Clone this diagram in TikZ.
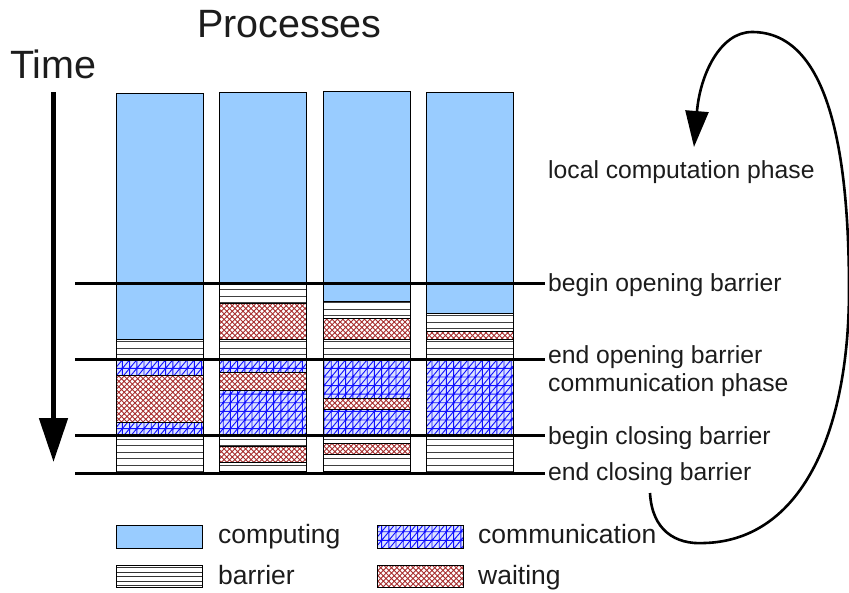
\documentclass[tikz,border=0pt]{standalone}
\usepackage{fontspec}
\setmainfont{Liberation Sans}
\usetikzlibrary{patterns,arrows.meta}

% horizontal hatching for barrier phases
\pgfdeclarepatternformonly{barrierlines}{\pgfqpoint{-1pt}{0pt}}{\pgfqpoint{11pt}{6.5pt}}{\pgfqpoint{10pt}{6.5pt}}{%
  \pgfsetlinewidth{0.9pt}%
  \pgfpathmoveto{\pgfqpoint{-1pt}{3.25pt}}%
  \pgfpathlineto{\pgfqpoint{11pt}{3.25pt}}%
  \pgfusepath{stroke}}
\pgfdeclarepatternformonly{barrierfine}{\pgfqpoint{-1pt}{0pt}}{\pgfqpoint{11pt}{4.4pt}}{\pgfqpoint{10pt}{4.4pt}}{%
  \pgfsetlinewidth{0.8pt}%
  \pgfpathmoveto{\pgfqpoint{-1pt}{2.2pt}}%
  \pgfpathlineto{\pgfqpoint{11pt}{2.2pt}}%
  \pgfusepath{stroke}}
% grid with diagonals for communication
\pgfdeclarepatternformonly{commgrid}{\pgfqpoint{-1pt}{-1pt}}{\pgfqpoint{8.2pt}{9.6pt}}{\pgfqpoint{7.2pt}{8.6pt}}{%
  \pgfsetlinewidth{0.9pt}%
  \pgfpathmoveto{\pgfqpoint{0pt}{-1pt}}\pgfpathlineto{\pgfqpoint{0pt}{9.6pt}}%
  \pgfpathmoveto{\pgfqpoint{-1pt}{0pt}}\pgfpathlineto{\pgfqpoint{8.2pt}{0pt}}%
  \pgfpathmoveto{\pgfqpoint{-0.6pt}{-0.72pt}}\pgfpathlineto{\pgfqpoint{7.8pt}{9.32pt}}%
  \pgfusepath{stroke}}
% diagonal cross-hatching for waiting
\pgfdeclarepatternformonly{waitcross}{\pgfqpoint{-1pt}{-1pt}}{\pgfqpoint{6.4pt}{6.4pt}}{\pgfqpoint{5.4pt}{5.4pt}}{%
  \pgfsetlinewidth{0.9pt}%
  \pgfpathmoveto{\pgfqpoint{-0.5pt}{-0.5pt}}\pgfpathlineto{\pgfqpoint{5.9pt}{5.9pt}}%
  \pgfpathmoveto{\pgfqpoint{-0.5pt}{5.9pt}}\pgfpathlineto{\pgfqpoint{5.9pt}{-0.5pt}}%
  \pgfusepath{stroke}}

\definecolor{compblue}{HTML}{99CCFF}
\definecolor{commblue}{HTML}{1010FF}
\definecolor{commbg}{HTML}{DCE3FF}
\definecolor{waitred}{HTML}{A83030}
\definecolor{txt}{HTML}{1C1C1C}

\tikzset{
  comp/.style={fill=compblue, draw=black, line width=0.8pt},
  barr/.style={preaction={fill=white}, pattern=barrierlines, pattern color=black!75, draw=black, line width=0.8pt},
  barrfine/.style={preaction={fill=white}, pattern=barrierfine, pattern color=black!80, draw=black, line width=0.8pt},
  comm/.style={preaction={fill=commbg}, pattern=commgrid, pattern color=commblue, draw=black, line width=0.8pt},
  wait/.style={preaction={fill=white}, pattern=waitcross, pattern color=waitred, draw=black, line width=0.8pt},
  phase/.style={line width=3pt, black},
  lbl/.style={anchor=base west, inner sep=0pt, text=txt, font=\fontsize{24.7}{28}\selectfont},
  leg/.style={anchor=base west, inner sep=0pt, text=txt, font=\fontsize{26.5}{30}\selectfont},
  ttl/.style={anchor=base west, inner sep=0pt, text=txt, font=\fontsize{39.5}{44}\selectfont},
}

% one segment of a process column: \seg{left x}{top y}{bottom y}{style}
\newcommand{\seg}[4]{\path[#4] (#1,#2) rectangle ++(87,#3-#2);}

\begin{document}
\begin{tikzpicture}[x=1pt,y=-1pt]
\useasboundingbox (0,0) rectangle (849,592);

% titles
\node[ttl] (procs) at (197,37) {Processes};
\node[ttl] (time) at (10,78) {Time};

% process columns
% column 1
\seg{116}{93}{473}{comp}
\seg{116}{339}{358}{barr}
\seg{116}{360}{375}{comm}
\seg{116}{375}{422.5}{wait}
\seg{116}{422.5}{435}{comm}
\seg{116}{436}{473}{barr}
% column 2
\seg{219.5}{92}{473}{comp}
\seg{219.5}{284}{303.5}{barr}
\seg{219.5}{303.5}{339.5}{wait}
\seg{219.5}{339.5}{358}{barr}
\seg{219.5}{360}{372.7}{comm}
\seg{219.5}{372.7}{390}{wait}
\seg{219.5}{390}{435}{comm}
\seg{219.5}{436}{446.7}{barr}
\seg{219.5}{446.7}{462.7}{wait}
\seg{219.5}{462.7}{471}{barr}
% column 3
\seg{323}{91}{473}{comp}
\seg{323}{301.7}{318.3}{barr}
\seg{323}{318.3}{339.3}{wait}
\seg{323}{339.3}{358}{barr}
\seg{323}{360}{398.3}{comm}
\seg{323}{398.3}{409.3}{wait}
\seg{323}{409.3}{435}{comm}
\seg{323}{436}{443.3}{barr}
\seg{323}{443.3}{454}{wait}
\seg{323}{454}{471}{barr}
% column 4
\seg{426.5}{92}{473}{comp}
\seg{426.5}{313.3}{331.7}{barr}
\seg{426.5}{331.7}{339.3}{wait}
\seg{426.5}{339.3}{358}{barr}
\seg{426.5}{360}{435}{comm}
\seg{426.5}{436}{473}{barr}

% phase boundaries
\coordinate (bo-l) at (75,283);   \coordinate (bo-r) at (545,283);
\coordinate (eo-l) at (75,359);   \coordinate (eo-r) at (545,359);
\coordinate (bc-l) at (75,435.5); \coordinate (bc-r) at (545,435.5);
\coordinate (ec-l) at (75,473);   \coordinate (ec-r) at (545,473);
\draw[phase] (bo-l) -- (bo-r);
\draw[phase] (eo-l) -- (eo-r);
\draw[phase] (bc-l) -- (bc-r);
\draw[phase] (ec-l) -- (ec-r);

% labels
\node[lbl] (lcp) at (548,178) {local computation phase};
\node[lbl] (bob) at (548,291) {begin opening barrier};
\node[lbl] (eob) at (548,363) {end opening barrier};
\node[lbl] (cph) at (548,391.5) {communication phase};
\node[lbl] (bcb) at (548,444.5) {begin closing barrier};
\node[lbl] (ecb) at (548,480) {end closing barrier};

% time axis
\coordinate (t-start) at (53.5,92);
\coordinate (t-end) at (53.5,462);
\draw[line width=5pt, -{Triangle[length=44pt,width=28pt]}] (t-start) -- (t-end);

% superstep cycle
\coordinate (cyc-a) at (650,493);
\coordinate (cyc-b) at (705,543);
\coordinate (cyc-c) at (849,290);
\coordinate (cyc-d) at (752,32);
\coordinate (cyc-e) at (694,147);
\draw[line width=2.6pt, -{Triangle[length=36pt,width=23pt]}]
  (cyc-a) .. controls (652,530) and (675,545) .. (cyc-b)
          .. controls (800,540) and (849,435) .. (cyc-c)
          .. controls (849,140) and (825,32) .. (cyc-d)
          .. controls (720,32) and (700,75) .. (cyc-e);

% legend
\path[comp] (116,525) rectangle (202,548) coordinate (k-comp);
\path[barrfine] (116,565) rectangle (202,587) coordinate (k-barr);
\path[comm] (377,525) rectangle (463,548) coordinate (k-comm);
\path[wait] (377,565) rectangle (463,587) coordinate (k-wait);
\node[leg] (l-comp) at (218,543) {computing};
\node[leg] (l-barr) at (218,584) {barrier};
\node[leg] (l-comm) at (478,543) {communication};
\node[leg] (l-wait) at (478,584) {waiting};
\end{tikzpicture}
\end{document}
